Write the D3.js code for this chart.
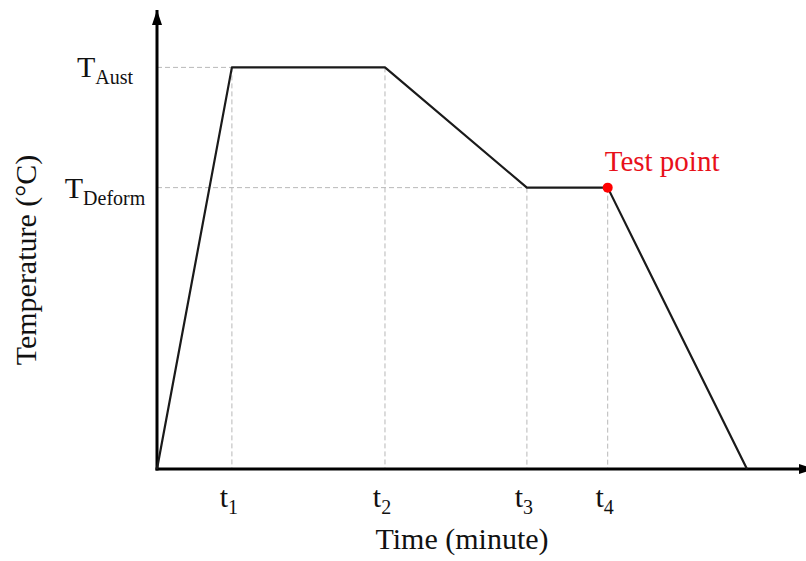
<!DOCTYPE html>
<html>
<head>
<meta charset="utf-8">
<script src="https://cdn.jsdelivr.net/npm/d3@7"></script>
<style>
  body { margin: 0; background: #fff; }
  svg { display: block; }
  text { font-family: "Liberation Serif", "Times New Roman", serif; }
</style>
</head>
<body>
<svg id="chart" width="806" height="561"></svg>
<script>
// Heat treatment schedule (arbitrary units, 0-100 on both axes)
const times = [0, 11.4, 34.7, 56.3, 68.6, 89.8];
const temps = [0, 87.5, 87.5, 61.3, 61.3, 0];

// ticks on the time axis
const timeTicks = [11.4, 34.7, 56.3, 68.6];
const timeTickLabels = ["1", "2", "3", "4"];   // subscripts for "t"

// levels on the temperature axis
const tempLevels = [87.5, 61.3];
const tempLevelLabels = ["Aust", "Deform"];    // subscripts for "T"

const testPointIndex = 4;

const svg = d3.select("#chart");

const x = d3.scaleLinear().domain([0, 100]).range([157, 814]);
const y = d3.scaleLinear().domain([0, 100]).range([469, 10]);

// Arrow heads
const defs = svg.append("defs");
defs.append("marker")
  .attr("id", "arrow")
  .attr("viewBox", "0 0 15 10")
  .attr("refX", 15).attr("refY", 5)
  .attr("markerWidth", 15).attr("markerHeight", 10)
  .attr("markerUnits", "userSpaceOnUse")
  .attr("orient", "auto")
  .append("path")
  .attr("d", "M0,0 L15,5 L0,10 Z")
  .attr("fill", "#000");

// Dashed guide lines
const guides = svg.append("g")
  .attr("stroke", "#b8b8b8")
  .attr("stroke-width", 1)
  .attr("stroke-dasharray", "5,3")
  .attr("fill", "none");

times.slice(1, 5).forEach((t, i) => {
  guides.append("line")
    .attr("x1", x(t)).attr("x2", x(t))
    .attr("y1", y(temps[i + 1])).attr("y2", y(0));
});
tempLevels.forEach((v, i) => {
  // go from the axis to where the curve first reaches that level
  const firstT = times[temps.indexOf(v)];
  guides.append("line")
    .attr("x1", x(0)).attr("x2", x(firstT))
    .attr("y1", y(v)).attr("y2", y(v));
});

// Axes (ticks hidden, just the arrowed lines)
const xAxis = svg.append("g")
  .attr("transform", `translate(0,${y(0)})`)
  .call(d3.axisBottom(x).tickValues(timeTicks).tickSize(0).tickFormat(""));
xAxis.select(".domain").remove();
xAxis.selectAll(".tick text").remove();

svg.append("line")
  .attr("x1", x(0) - 1.5).attr("x2", x(100))
  .attr("y1", y(0)).attr("y2", y(0))
  .attr("stroke", "#000").attr("stroke-width", 3)
  .attr("marker-end", "url(#arrow)");

svg.append("line")
  .attr("x1", x(0)).attr("x2", x(0))
  .attr("y1", y(0) + 1.5).attr("y2", y(100))
  .attr("stroke", "#000").attr("stroke-width", 3)
  .attr("marker-end", "url(#arrow)");

// Time tick labels t1..t4
timeTicks.forEach((t, i) => {
  const lbl = svg.append("text")
    .attr("x", x(t) - 3)
    .attr("y", 507)
    .attr("text-anchor", "middle")
    .attr("font-size", 30)
    .attr("fill", "#111");
  lbl.append("tspan").text("t");
  lbl.append("tspan").attr("font-size", 20).attr("dy", 7).text(timeTickLabels[i]);
});

// Temperature level labels
tempLevels.forEach((v, i) => {
  const lbl = svg.append("text")
    .attr("x", 105)
    .attr("y", y(v) + 10)
    .attr("text-anchor", "middle")
    .attr("font-size", 30)
    .attr("fill", "#111");
  lbl.append("tspan").text("T");
  lbl.append("tspan").attr("font-size", 20).attr("dy", 7).text(tempLevelLabels[i]);
});

// Schedule curve
const line = d3.line().x((d, i) => x(times[i])).y(d => y(d));
svg.append("path")
  .datum(temps)
  .attr("d", line)
  .attr("fill", "none")
  .attr("stroke", "#1a1a1a")
  .attr("stroke-width", 2.2)
  .attr("stroke-linejoin", "round");

// Test point
svg.append("circle")
  .attr("cx", x(times[testPointIndex]))
  .attr("cy", y(temps[testPointIndex]))
  .attr("r", 5)
  .attr("fill", "#f00");

svg.append("text")
  .attr("x", x(times[testPointIndex]) - 3)
  .attr("y", y(temps[testPointIndex]) - 17)
  .attr("font-size", 29)
  .attr("fill", "#e8101a")
  .text("Test point");

// Axis titles
svg.append("text")
  .attr("x", 462)
  .attr("y", 549)
  .attr("text-anchor", "middle")
  .attr("font-size", 30)
  .attr("fill", "#111")
  .text("Time (minute)");

svg.append("text")
  .attr("transform", "translate(36,260) rotate(-90)")
  .attr("text-anchor", "middle")
  .attr("font-size", 30)
  .attr("fill", "#111")
  .text("Temperature (°C)");
</script>
</body>
</html>
